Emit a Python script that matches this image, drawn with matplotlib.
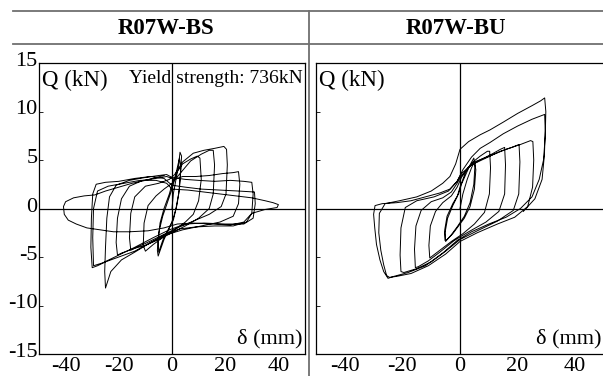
import matplotlib
matplotlib.use('Agg')
import matplotlib.pyplot as plt
from matplotlib.lines import Line2D
from matplotlib.transforms import ScaledTranslation

plt.rcParams['font.family'] = ['Liberation Serif', 'DejaVu Serif']
plt.rcParams['axes.unicode_minus'] = False

# R07W-BS hysteresis path (delta in mm, Q in kN)
bs_x = [0, 0.5, 1.5, 2.5, 3, 3.6, 3.2, 2.5, 1.5, 0.5, -1, -3, -5.2, -5.5, -5, -3.5, -1.5, 0,
        1, 2, 2.8, 3.3, 2.8, 1.8, 0.5, -1.5, -3.5, -5, -5.2, -4.5, -3, -1, 0,
        2, 4, 7, 9.5, 10.5, 11, 10, 8, 5, 1, -3, -7, -10, -10.8, -10.5, -9, -6, -3, 0,
        3, 7, 11, 14, 15.5, 16, 15.5, 14, 10, 5, 0, -5, -10, -14, -15.5, -16, -15.5, -14, -10, -5, -1, 1,
        4, 8, 12, 16, 19.5, 20.5, 20.8, 20.3, 18.5, 14, 8, 2, -4, -10, -15, -19, -20.5, -21, -20.5, -19, -16, -11, -6, -2, 1,
        4, 9, 14, 19, 23, 25, 25.5, 25, 23, 18, 11, 4, -2, -8, -14, -19, -23, -25, -25.3, -25, -24.5, -23.5, -21, -16, -10, -5, -2, 0,
        5, 10, 16, 22, 27, 30, 30.5, 30, 28, 23, 16, 9, 3, -2, -8, -14, -20, -25, -28, -30, -30.5, -30.3, -29.8, -28.5, -25, -20, -14, -8, -3, 0,
        5, 11, 18, 25, 31, 31.3, 30.5, 27, 20, 12, 5, -1, -7, -14, -20, -26, -29.5, -29.8, -29.5, -28, -24, -18, -12, -6, -2, 0,
        6, 12, 18, 24, 30, 35, 38, 40, 39.5, 35, 30, 27, 22, 15, 8, 2, -3, -9, -16, -22, -27, -32, -36, -39, -40.5, -40.8, -40, -37, -33, -29, -25, -20, -15, -10, -6, -3]
bs_y = [0, 1.5, 3, 4.5, 5.8, 5.4, 3.5, 1.5, 0, -1, -2, -3.2, -4.9, -4.3, -2.5, -0.8, 0.8, 2,
        3, 4.2, 5.2, 4.2, 2, 0.3, -1.2, -2.2, -3.3, -4.5, -3.5, -1.5, 0, 1.5, 2.5,
        3.8, 4.6, 5.1, 5.4, 5.2, 3, 0.8, -0.6, -1.4, -2.2, -2.9, -3.7, -4.4, -3.8, -1.5, 0.3, 1.3, 2.0, 2.6,
        3.6, 4.9, 5.6, 6.0, 6.0, 4.5, 1.5, 0, -1, -1.8, -2.5, -3.2, -3.8, -4.1, -4.3, -3, -0.5, 1.2, 2.3, 2.6, 3.0, 3.5,
        4.8, 5.7, 6.0, 6.2, 6.4, 6.1, 4.5, 1.5, 0.2, -0.6, -1.3, -2.0, -2.8, -3.6, -4.2, -4.6, -4.8, -3.5, -1, 1.0, 2.3, 2.9, 3.1, 3.3, 3.0,
        3.3, 3.3, 3.4, 3.6, 3.7, 3.8, 2.5, 0.5, -0.8, -1.4, -1.8, -2.2, -2.7, -3.5, -4.5, -5.3, -6.5, -8.2, -6.5, -4, -1, 1.2, 2.4, 2.9, 3.2, 3.4, 3.5, 3.2,
        3.0, 2.9, 2.8, 2.9, 2.8, 2.7, 1.5, -0.5, -1.4, -1.8, -1.8, -1.9, -2.1, -2.6, -3.5, -4.4, -5.0, -5.5, -5.9, -6.1, -4, -1, 1.5, 2.5, 2.7, 2.8, 3.1, 3.3, 3.1, 2.4,
        2.2, 2.0, 1.9, 1.8, 1.7, 0.5, -1.0, -1.6, -1.6, -1.5, -1.6, -2.2, -3.0, -4.0, -4.8, -5.6, -5.9, -3, 0, 1.8, 2.3, 2.6, 2.9, 2.9, 2.6, 2.0,
        1.9, 1.7, 1.5, 1.3, 1.1, 0.8, 0.6, 0.4, 0.1, -0.1, -0.5, -1.4, -1.7, -1.6, -1.5, -1.6, -2.0, -2.3, -2.4, -2.4, -2.2, -2.0, -1.6, -1.2, -0.6, 0.2, 0.7, 1.1, 1.3, 1.4, 1.8, 2.2, 2.6, 2.9, 3.2, 3.4]

# R07W-BU hysteresis path
bu_x = [0, 1, 2.5, 4, 5, 5.5, 5, 3.5, 1.5, -0.5, -2.5, -4.5, -5.2, -5.3, -4.5, -2.5, -0.5, 0.5,
        2, 3.5, 4.8, 5.2, 4.8, 3.5, 1.5, -1, -3, -5, -5.2, -4.3, -2.5, -1, 0,
        2, 4.5, 7, 9.5, 10.3, 10.6, 10.2, 8.5, 5, 1, -3, -6.5, -9.5, -10.5, -10.8, -10.3, -8.5, -6, -3, -1, 0.5,
        3, 7, 11, 14, 15.5, 15.8, 15.5, 13.5, 9, 3, -2, -7, -11, -14.5, -15.5, -15.8, -15.3, -13.5, -10, -6, -3, -1, 0.5,
        4, 9, 14, 18, 20.5, 20.8, 20.4, 18.5, 13, 6, 0, -5, -10, -15, -19.5, -20.5, -20.8, -20.5, -19, -15, -9, -4, -1, 0.5,
        5, 11, 16, 21, 24.5, 25.3, 25.6, 25.2, 23.5, 19, 13, 6, 0, -5, -11, -17, -22, -24.5, -25.5, -26.5, -27.5, -28.2, -28,
        -26, -21, -15, -10, -6, -3.5, -1.5, 0, 3, 7, 10.4, 15, 20, 25, 28, 29.4, 29.8, 29.6, 29, 27.5, 25, 21, 16, 10, 4,
        -1, -6, -12, -18, -23, -25, -26.5, -27.8, -29, -29.6, -30, -29.5, -27, -22, -17, -12, -7, -3.5, -1, 1, 4, 7, 10.4,
        15, 20, 25, 29.4, 29.6, 29.3, 28.5, 26, 22]
bu_y = [0, 1.5, 3, 4.2, 4.8, 4, 2, 0.2, -1, -1.8, -2.6, -3.2, -3.3, -2.2, -0.8, 0.5, 1.5, 2.5,
        3.5, 4.5, 5.2, 4.5, 2.5, 0.6, -0.8, -1.9, -2.7, -3.4, -2.5, -1, 0.3, 1.2, 2.2,
        3.8, 4.8, 5.4, 5.9, 5.9, 4.2, 1.5, -0.4, -1.6, -2.6, -3.4, -4.2, -4.9, -5.1, -3.8, -1.8, -0.3, 0.6, 1.3, 2.2, 3.2,
        4.3, 5.0, 5.6, 6.1, 6.3, 4.5, 1.5, -0.3, -1.4, -2.4, -3.3, -4.5, -5.4, -6.0, -6.1, -4.2, -1.8, -0.2, 0.7, 1.1, 1.7, 2.6, 3.4,
        4.5, 5.2, 5.9, 6.3, 6.6, 4.8, 1.5, -0.2, -1.3, -2.3, -3.2, -4.4, -5.5, -6.2, -6.6, -6.5, -4.8, -2, 0.1, 0.8, 1.2, 1.8, 2.8, 3.6,
        4.8, 5.5, 6.1, 6.6, 7.0, 6.9, 5, 2.2, 0.2, -0.9, -1.6, -2.5, -3.4, -4.7, -5.9, -6.7, -7.0, -7.1, -6.9, -5.8, -4.3, -2.5, -0.5,
        0.5, 0.8, 1.2, 1.8, 2.6, 3.3, 4.6, 6.1, 6.9, 7.6, 8.1, 8.9, 9.8, 10.6, 11.1, 11.4, 10, 7.5, 5, 3, 1.2, 0, -0.9, -1.6, -2.4,
        -3.3, -4.6, -5.9, -6.6, -7.0, -7.2, -6.5, -5.3, -3.7, -2, -0.6, 0.3, 0.5, 0.6, 0.8, 1.2, 1.6, 2.0, 2.8, 4, 5.3, 6.2, 6.8,
        7.7, 8.5, 9.2, 9.7, 8, 5.5, 3, 1, -0.3]

titles = ['R07W-BS', 'R07W-BU']
yticks = [-15, -10, -5, 0, 5, 10, 15]
xticks = [-40, -20, 0, 20, 40]

W, H = 603, 376
fig = plt.figure(figsize=(W / 100, H / 100), dpi=100)

ax1 = fig.add_axes([39 / W, 1 - 354 / H, 266 / W, 291 / H])
ax2 = fig.add_axes([316 / W, 1 - 354 / H, 288 / W, 291 / H])

for ax, xs, ys in [(ax1, bs_x, bs_y), (ax2, bu_x, bu_y)]:
    ax.axhline(0, color='black', lw=0.9)
    ax.axvline(0, color='black', lw=0.9)
    ax.plot(xs, ys, color='black', lw=0.7)
    ax.set_xlim(-50, 50)
    ax.set_ylim(-15, 15)
    ax.set_xticks(xticks)
    ax.set_yticks(yticks)
    ax.tick_params(axis='y', direction='in', length=3, width=0.6, pad=1, labelsize=16)
    ax.tick_params(axis='x', length=0, pad=2, labelsize=16)
    for s in ax.spines.values():
        s.set_linewidth(0.9)
    ax.text(0.012, 0.975, 'Q (kN)', transform=ax.transAxes, ha='left', va='top', fontsize=16.5)
    ax.text(0.99, 0.02, 'δ (mm)', transform=ax.transAxes, ha='right', va='bottom', fontsize=16)

ax2.tick_params(axis='y', labelleft=False)
ax1.text(0.99, 0.975, 'Yield strength: 736kN', transform=ax1.transAxes,
         ha='right', va='top', fontsize=14)

# nudge y labels up like the original
for lab in ax1.get_yticklabels():
    lab.set_transform(lab.get_transform() + ScaledTranslation(0, 4 / 100, fig.dpi_scale_trans))

# header lines and divider
gray = '#707070'
fig.add_artist(Line2D([13 / W, 1], [1 - 11 / H, 1 - 11 / H], color=gray, lw=1.3))
fig.add_artist(Line2D([13 / W, 1], [1 - 44 / H, 1 - 44 / H], color=gray, lw=1.3))
fig.add_artist(Line2D([309 / W, 309 / W], [0, 1 - 11 / H], color=gray, lw=1.3))

fig.text(166 / W, 1 - 28 / H, titles[0], ha='center', va='center', fontsize=16.5, fontweight='bold')
fig.text(456 / W, 1 - 28 / H, titles[1], ha='center', va='center', fontsize=16.5, fontweight='bold')

fig.savefig('out.png', dpi=100)
